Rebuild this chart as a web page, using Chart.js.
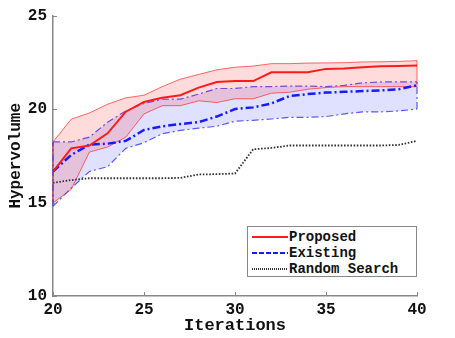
<!DOCTYPE html>
<html lang="en">
<head>
    <meta charset="UTF-8">
    <title>Hypervolume vs Iterations</title>
    <style>
        body {
            margin: 0;
            padding: 0;
            background: #fff;
        }
        .chart-box {
            position: relative;
            width: 455px;
            height: 338px;
        }
        .legend {
            position: absolute;
            left: 247px;
            top: 226px;
            width: 170px;
            height: 51px;
            border: 1px solid #888;
            background: #fff;
            font-family: "Liberation Mono", "DejaVu Sans Mono", monospace;
            font-weight: bold;
            font-size: 14px;
            color: #111;
            padding-top: 2px;
            box-sizing: border-box;
        }
        .legend .row {
            display: flex;
            align-items: center;
            height: 16px;
        }
        .legend svg {
            margin-left: 4px;
            margin-right: 1px;
        }
    </style>
</head>
<body>
    <div class="chart-box">
        <canvas id="hvChart"></canvas>
        <div class="legend" id="legend"></div>
    </div>

    <script src="https://cdn.jsdelivr.net/npm/chart.js"></script>
    <script>
        // data
        const iterations = [20, 21, 22, 23, 24, 25, 26, 27, 28, 29, 30, 31, 32, 33, 34, 35, 36, 37, 38, 39, 40];
        const proposedMean  = [16.65, 17.9, 18.05, 18.7, 19.86, 20.38, 20.6, 20.74, 21.15, 21.45, 21.5, 21.5, 21.97, 21.97, 21.97, 22.15, 22.17, 22.24, 22.29, 22.3, 22.33];
        const proposedUpper = [18.24, 19.46, 19.79, 20.26, 20.6, 20.74, 21.2, 21.6, 21.85, 22.1, 22.24, 22.3, 22.43, 22.43, 22.46, 22.47, 22.48, 22.52, 22.53, 22.55, 22.59];
        const proposedLower = [14.98, 15.7, 17.7, 17.97, 18.5, 19.74, 20.18, 20.18, 20.44, 20.35, 20.55, 20.55, 20.85, 20.9, 21.06, 21.15, 21.2, 21.2, 21.2, 21.2, 21.2];
        const existingMean  = [16.66, 17.55, 18.1, 18.15, 18.3, 18.88, 19.08, 19.2, 19.3, 19.6, 20.0, 20.09, 20.3, 20.7, 20.8, 20.88, 20.92, 20.96, 21.0, 21.06, 21.27];
        const existingUpper = [18.24, 18.24, 18.5, 19.3, 19.9, 20.3, 20.53, 20.53, 20.8, 21.1, 21.1, 21.2, 21.2, 21.23, 21.23, 21.2, 21.27, 21.4, 21.45, 21.45, 21.46];
        const existingLower = [14.8, 15.77, 16.66, 16.92, 17.9, 18.2, 18.68, 18.86, 18.98, 19.08, 19.35, 19.4, 19.47, 19.56, 19.56, 19.6, 19.74, 19.85, 19.85, 19.9, 20.0];
        const randomSearch  = [16.05, 16.2, 16.3, 16.3, 16.3, 16.3, 16.3, 16.32, 16.5, 16.52, 16.55, 17.85, 17.92, 18.05, 18.05, 18.05, 18.05, 18.05, 18.05, 18.08, 18.3];
        const xTicks = [20, 25, 30, 35, 40];
        const yTicks = [10, 15, 20, 25];

        const monoFont = "'Liberation Mono', 'DejaVu Sans Mono', monospace";
        const pts = arr => arr.map((v, i) => ({ x: iterations[i], y: v }));

        const dashDot = [7, 3, 2, 3];

        // inward tick marks + closing edges of the two bands
        const innerTicks = {
            id: 'innerTicks',
            afterDatasetsDraw(chart) {
                const ctx = chart.ctx;
                const xs = chart.scales.x, ys = chart.scales.y;
                const last = iterations.length - 1;
                const edge = (idx, lo, hi, color, dash, w) => {
                    const px = xs.getPixelForValue(iterations[idx]);
                    ctx.save();
                    ctx.strokeStyle = color;
                    ctx.lineWidth = w;
                    ctx.setLineDash(dash);
                    ctx.beginPath();
                    ctx.moveTo(px, ys.getPixelForValue(lo[idx]));
                    ctx.lineTo(px, ys.getPixelForValue(hi[idx]));
                    ctx.stroke();
                    ctx.restore();
                };
                [0, last].forEach(i => {
                    edge(i, proposedLower, proposedUpper, 'rgba(255, 40, 40, 0.7)', [], 1);
                    edge(i, existingLower, existingUpper, 'rgba(50, 50, 255, 0.8)', dashDot, 1.2);
                });
            },
            afterDraw(chart) {
                const ctx = chart.ctx;
                const xs = chart.scales.x, ys = chart.scales.y;
                ctx.save();
                ctx.strokeStyle = '#888';
                ctx.lineWidth = 1;
                xTicks.forEach(t => {
                    const px = Math.round(xs.getPixelForValue(t)) + 0.5;
                    ctx.beginPath();
                    ctx.moveTo(px, ys.bottom);
                    ctx.lineTo(px, ys.bottom - 4);
                    ctx.stroke();
                });
                yTicks.forEach(t => {
                    const py = Math.round(ys.getPixelForValue(t)) + 0.5;
                    ctx.beginPath();
                    ctx.moveTo(xs.left, py);
                    ctx.lineTo(xs.left + 4, py);
                    ctx.stroke();
                });
                ctx.restore();
            }
        };

        const datasets = [
            {
                label: 'Proposed',
                data: pts(proposedMean),
                borderColor: '#ff1a1a',
                borderWidth: 2,
                pointRadius: 0,
                fill: false
            },
            {
                label: 'Existing',
                data: pts(existingMean),
                borderColor: '#1a1aff',
                borderWidth: 2.5,
                borderDash: [8, 3, 2, 3],
                legendDash: [5, 2],
                pointRadius: 0,
                fill: false
            },
            {
                label: 'Random Search',
                data: pts(randomSearch),
                borderColor: '#333',
                borderWidth: 1.8,
                borderDash: [1.6, 1.6],
                legendDash: [1, 1],
                pointRadius: 0,
                fill: false
            },
            {
                label: 'proposed upper',
                data: pts(proposedUpper),
                borderColor: 'rgba(255, 40, 40, 0.7)',
                borderWidth: 1,
                pointRadius: 0,
                fill: false
            },
            {
                label: 'proposed lower',
                data: pts(proposedLower),
                borderColor: 'rgba(255, 40, 40, 0.7)',
                borderWidth: 1,
                pointRadius: 0,
                fill: '-1',
                backgroundColor: 'rgba(255, 0, 0, 0.14)'
            },
            {
                label: 'existing upper',
                data: pts(existingUpper),
                borderColor: 'rgba(50, 50, 255, 0.8)',
                borderWidth: 1.2,
                borderDash: dashDot,
                pointRadius: 0,
                fill: false
            },
            {
                label: 'existing lower',
                data: pts(existingLower),
                borderColor: 'rgba(50, 50, 255, 0.8)',
                borderWidth: 1.2,
                borderDash: dashDot,
                pointRadius: 0,
                fill: '-1',
                backgroundColor: 'rgba(0, 0, 255, 0.12)'
            }
        ];

        const chart = new Chart(document.getElementById('hvChart').getContext('2d'), {
            type: 'line',
            data: { datasets: datasets },
            options: {
                responsive: true,
                maintainAspectRatio: false,
                animation: false,
                layout: { padding: { top: 12, right: 38, left: 0, bottom: 0 } },
                plugins: {
                    legend: { display: false },
                    tooltip: { enabled: false }
                },
                scales: {
                    x: {
                        type: 'linear',
                        min: 20,
                        max: 40,
                        afterFit(scale) { scale.height = 42; },
                        afterBuildTicks(scale) { scale.ticks = xTicks.map(v => ({ value: v })); },
                        grid: { display: false, drawTicks: false },
                        border: { display: true, color: '#888', width: 1.5 },
                        ticks: {
                            padding: 4,
                            color: '#111',
                            font: { family: monoFont, size: 16, weight: 'bold' }
                        },
                        title: {
                            display: true,
                            text: 'Iterations',
                            color: '#111',
                            padding: { top: 0, bottom: 2 },
                            font: { family: monoFont, size: 17, weight: 'bold' }
                        }
                    },
                    y: {
                        min: 10,
                        max: 25,
                        afterFit(scale) { scale.width = 53; },
                        afterBuildTicks(scale) { scale.ticks = yTicks.map(v => ({ value: v })); },
                        grid: { display: false, drawTicks: false },
                        border: { display: true, color: '#888', width: 1.5 },
                        ticks: {
                            padding: 6,
                            color: '#111',
                            font: { family: monoFont, size: 16, weight: 'bold' }
                        },
                        title: {
                            display: true,
                            text: 'Hypervolume',
                            color: '#111',
                            padding: { top: 6, bottom: 0 },
                            font: { family: monoFont, size: 16, weight: 'bold' }
                        }
                    }
                }
            },
            plugins: [innerTicks]
        });

        // legend box drawn from the first three datasets
        const legendEl = document.getElementById('legend');
        datasets.slice(0, 3).forEach(ds => {
            const row = document.createElement('div');
            row.className = 'row';
            const dash = ds.legendDash ? ds.legendDash.join(',') : 'none';
            row.innerHTML =
                '<svg width="36" height="8"><line x1="0" y1="4" x2="36" y2="4" stroke="' + ds.borderColor +
                '" stroke-width="' + (ds.borderWidth > 2 ? 2 : ds.borderWidth) + '" stroke-dasharray="' + dash + '"/></svg>' +
                '<span>' + ds.label + '</span>';
            legendEl.appendChild(row);
        });
    </script>
</body>
</html>
